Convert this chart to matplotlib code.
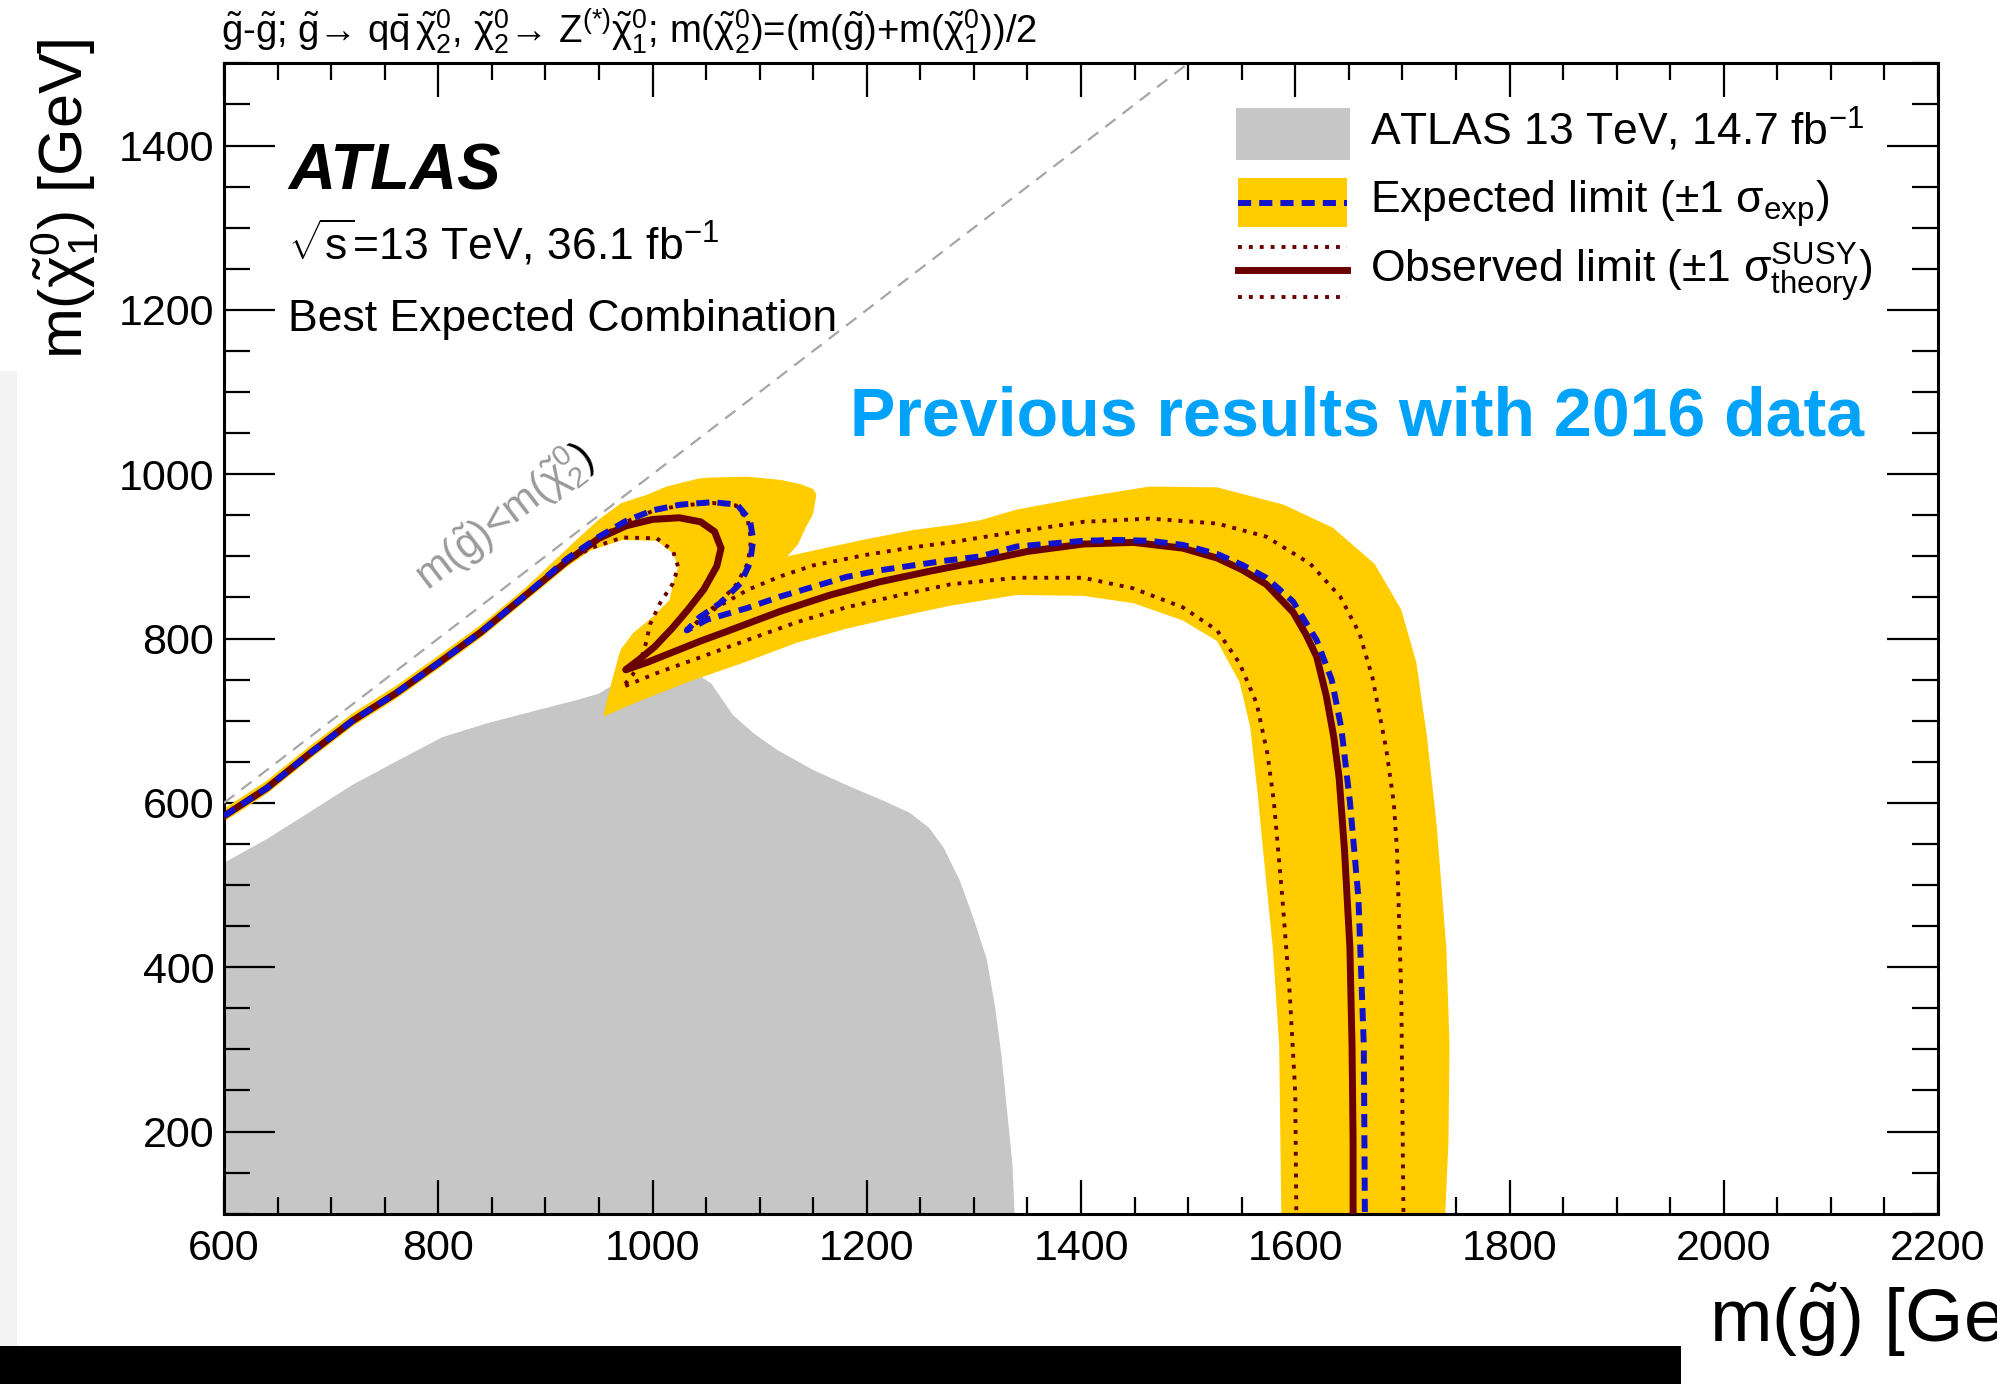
import numpy as np
import matplotlib
matplotlib.use('Agg')
import matplotlib.pyplot as plt
from matplotlib.patches import Rectangle
from matplotlib.ticker import MultipleLocator
from matplotlib.transforms import IdentityTransform

plt.rcParams['font.family'] = ['Liberation Sans', 'DejaVu Sans']
plt.rcParams['mathtext.fontset'] = 'custom'
plt.rcParams['mathtext.rm'] = 'Liberation Sans'
plt.rcParams['mathtext.it'] = 'Liberation Sans:italic'
plt.rcParams['mathtext.bf'] = 'Liberation Sans:bold'
plt.rcParams['mathtext.sf'] = 'Liberation Sans'
plt.rcParams['mathtext.default'] = 'regular'

# ---------------- data (GeV) ----------------
x_major = [600, 800, 1000, 1200, 1400, 1600, 1800, 2000, 2200]
y_major = [200, 400, 600, 800, 1000, 1200, 1400]

# kinematic boundary m(gluino) = m(chi1)
kin_x = [600, 1500]
kin_y = [600, 1500]

# previous ATLAS 13 TeV 14.7 fb-1 excluded region (grey)
prev_x = [600, 600, 640, 679, 720, 763, 804, 846, 887, 929, 950, 965, 990, 1020,
          1040, 1047, 1055, 1075, 1095, 1117, 1150, 1184, 1215, 1240, 1258, 1272,
          1287, 1300, 1312, 1320, 1326, 1331, 1336, 1338]
prev_y = [100, 527, 556, 588, 622, 652, 680, 697, 711, 725, 733, 745, 765, 778,
          765, 752, 745, 707, 684, 664, 640, 620, 603, 588, 570, 545,
          505, 458, 410, 350, 290, 225, 160, 100]

# expected +-1 sigma band: outer and inner edges
band_out_x = [600, 640, 680, 720, 760, 800, 840, 880, 929, 950, 971, 995, 1013, 1044,
              1055, 1088, 1097, 1120, 1138, 1150, 1153, 1150, 1143, 1136, 1126, 1150,
              1196, 1243, 1278, 1306, 1340, 1402, 1464, 1527, 1589, 1635, 1674, 1699,
              1713, 1723, 1732, 1741, 1744, 1743, 1740]
band_out_y = [593, 627, 669, 709, 742, 779, 817, 860, 920, 945, 965, 975, 985, 995,
              996, 997, 996, 993, 988, 982, 975, 952, 935, 915, 900, 907,
              920, 932, 938, 944, 957, 972, 985, 984, 963, 935, 891, 835,
              771, 680, 573, 424, 305, 187, 100]
band_in_x = [600, 640, 680, 720, 760, 800, 840, 880, 920, 942, 972, 1004, 1019, 1024,
             1019, 1016, 1000, 982, 970, 963, 957, 954, 988, 1035, 1088, 1135, 1181,
             1228, 1278, 1340, 1402, 1449, 1495, 1527, 1548, 1558, 1565, 1570, 1579,
             1585, 1587]
band_in_y = [577, 611, 653, 693, 726, 763, 801, 844, 887, 907, 920, 919, 904, 887,
             867, 847, 826, 807, 786, 753, 722, 705, 724, 748, 772, 795, 812,
             826, 840, 853, 852, 843, 822, 797, 747, 692, 610, 542, 424,
             305, 100]

# expected limit
exp_x = [600, 640, 680, 720, 760, 800, 840, 880, 920, 950, 975, 1000, 1026, 1056, 1079,
         1091, 1094, 1091, 1082, 1063, 1044, 1032, 1051, 1088, 1119, 1150, 1181, 1212,
         1243, 1275, 1306, 1340, 1402, 1433, 1464, 1495, 1527, 1550, 1573, 1598, 1620,
         1634, 1643, 1651, 1659, 1664, 1665]
exp_y = [584, 618, 660, 700, 733, 770, 808, 851, 897, 924, 943, 956, 963, 966, 963,
         944, 920, 892, 867, 843, 826, 810, 823, 837, 851, 863, 875, 883,
         889, 895, 900, 912, 919, 920, 919, 914, 903, 890, 874, 845, 798,
         750, 691, 602, 484, 305, 100]

# observed limit
obs_x = [600, 640, 680, 720, 760, 800, 840, 880, 920, 950, 975, 1000, 1025, 1045, 1058,
         1064, 1060, 1048, 1033, 1018, 1002, 988, 975, 995, 1020, 1045, 1070, 1119,
         1166, 1212, 1259, 1306, 1350, 1402, 1449, 1495, 1527, 1550, 1573, 1598, 1610,
         1620, 1629, 1636, 1641, 1646, 1651, 1653, 1654, 1654]
obs_y = [584, 618, 660, 700, 733, 770, 808, 851, 894, 922, 937, 945, 947, 942, 930,
         910, 888, 860, 835, 812, 790, 775, 762, 771, 784, 797, 809, 833,
         853, 869, 882, 894, 906, 915, 917, 910, 898, 884, 866, 832, 805,
         778, 730, 680, 630, 542, 424, 305, 187, 100]

# observed +1 sigma(theory)
thup_x = [600, 640, 680, 720, 760, 800, 840, 880, 920, 950, 975, 1000, 1026, 1056, 1078,
          1089, 1092, 1089, 1079, 1062, 1046, 1038, 1060, 1090, 1120, 1150, 1200, 1243,
          1278, 1340, 1402, 1464, 1527, 1573, 1614, 1642, 1660, 1672, 1685, 1692, 1695,
          1699, 1701]
thup_y = [584, 618, 660, 700, 733, 770, 808, 851, 896, 923, 942, 955, 962, 965, 962,
          943, 920, 892, 867, 843, 827, 815, 838, 860, 876, 889, 902, 911,
          917, 930, 942, 946, 940, 924, 891, 851, 806, 753, 665, 600, 542,
          365, 100]

# observed -1 sigma(theory)
thdn_x = [600, 640, 680, 720, 760, 800, 840, 880, 920, 942, 972, 1004, 1019, 1024, 1019,
          1007, 998, 993, 988, 981, 972, 1004, 1040, 1088, 1135, 1181, 1228, 1278, 1340,
          1402, 1449, 1495, 1527, 1548, 1564, 1574, 1580, 1588, 1595, 1600, 1601]
thdn_y = [584, 618, 660, 700, 733, 770, 808, 851, 893, 910, 923, 922, 907, 887, 867,
          843, 818, 790, 770, 755, 741, 758, 775, 798, 820, 838, 852, 866, 874,
          874, 861, 838, 810, 770, 721, 660, 602, 484, 365, 247, 100]

# ---------------- colours / styles ----------------
C_GREY = '#C6C6C6'
C_YEL = '#FFCC00'
C_RED = '#6B0000'
C_BLUE = '#1212CC'

W, H = 1997, 1384
fig = plt.figure(figsize=(W / 100, H / 100), dpi=100)
L, R, T, B = 224, 1938, 63.4, 1213.7
ax = fig.add_axes([L / W, 1 - B / H, (R - L) / W, (B - T) / H])
ax.set_xlim(600, 2200)
ax.set_ylim(100, 1500)

ax.fill(prev_x, prev_y, color=C_GREY, lw=0, zorder=1)
band_x = list(band_out_x) + list(band_in_x[::-1])
band_y = list(band_out_y) + list(band_in_y[::-1])
ax.fill(band_x, band_y, color=C_YEL, lw=0, zorder=2)
ax.plot(kin_x, kin_y, color='#A6A6A6', lw=1.6, dashes=(5.8, 4.0), zorder=3)
for tx, ty in ((thup_x, thup_y), (thdn_x, thdn_y)):
    ax.plot(tx, ty, color=C_RED, lw=2.8, dashes=(1.0, 1.8), dash_capstyle='butt', zorder=4)
ax.plot(obs_x, obs_y, color=C_RED, lw=5.0, solid_joinstyle='round', zorder=5)
ax.plot(exp_x, exp_y, color=C_BLUE, lw=4.3, dashes=(2.2, 1.35), dash_capstyle='butt', zorder=6)

# ---------------- axes styling ----------------
ax.set_xticks(x_major)
ax.set_yticks(y_major)
ax.xaxis.set_minor_locator(MultipleLocator(50))
ax.yaxis.set_minor_locator(MultipleLocator(50))
ax.tick_params(which='both', direction='in', top=True, right=True, width=1.6,
               labelsize=31, colors='black')
ax.tick_params(axis='x', which='major', length=24.5, pad=11)
ax.tick_params(axis='x', which='minor', length=12.3)
ax.tick_params(axis='y', which='major', length=36.5, pad=7)
ax.tick_params(axis='y', which='minor', length=18.5)
for s in ax.spines.values():
    s.set_linewidth(2.2)

# ---------------- texts ----------------
ax.text(0.0373, 0.890, 'ATLAS', transform=ax.transAxes, fontsize=47,
        fontweight='bold', fontstyle='italic', ha='left', va='baseline')
ax.text(0.0373, 0.8291, r'$\sqrt{s}$=13 TeV, 36.1 fb$^{-1}$', transform=ax.transAxes,
        fontsize=32, ha='left', va='baseline')
ax.text(0.0373, 0.7674, 'Best Expected Combination', transform=ax.transAxes,
        fontsize=32, ha='left', va='baseline')
ax.text(0.3652, 0.6761, 'Previous results with 2016 data', transform=ax.transAxes,
        fontsize=49, fontweight='bold', color='#00A2FA', ha='left', va='baseline')

# kinematic-limit label along the diagonal (closing parenthesis in black)
kin_label = r'm($\tilde{g}$)<m($\tilde{\chi}^{0}_{2}$'
kin_fs = 30
kin_anchor = (790, 858)
ax.text(kin_anchor[0], kin_anchor[1], kin_label, fontsize=kin_fs,
        color='#9A9A9A', rotation=45, transform_rotates_text=True,
        rotation_mode='anchor', ha='left', va='baseline', zorder=7)
fig.canvas.draw()
rend = fig.canvas.get_renderer()
tmp = fig.text(0, 0, kin_label, fontsize=kin_fs)
w_lab = tmp.get_window_extent(rend).width
tmp.remove()
p0 = ax.transData.transform(kin_anchor)
p1 = ax.transData.transform((kin_anchor[0] + 100, kin_anchor[1] + 100))
ang = np.arctan2(p1[1] - p0[1], p1[0] - p0[0])
pp = p0 + (w_lab + 1) * np.array([np.cos(ang), np.sin(ang)])
fig.text(pp[0], pp[1], ')', fontsize=kin_fs, color='black', rotation=np.degrees(ang),
         rotation_mode='anchor', ha='left', va='baseline', transform=IdentityTransform(),
         zorder=7)

# legend (drawn in axes coordinates)
tr = ax.transAxes
ax.add_patch(Rectangle((0.5904, 0.9160), 0.0665, 0.0452, transform=tr,
                       color=C_GREY, lw=0, zorder=8))
ax.add_patch(Rectangle((0.5916, 0.8578), 0.0636, 0.0426, transform=tr,
                       color=C_YEL, lw=0, zorder=8))
ax.plot([0.5916, 0.6552], [0.8787, 0.8787], transform=tr, color=C_BLUE, lw=4.3,
        dashes=(2.2, 1.35), zorder=9)
ax.plot([0.5916, 0.6552], [0.8204, 0.8204], transform=tr, color=C_RED, lw=5.0, zorder=9)
for yy in (0.8404, 0.7969):
    ax.plot([0.5916, 0.6552], [yy, yy], transform=tr, color=C_RED, lw=2.8,
            dashes=(1.0, 1.8), zorder=9)
ax.text(0.6686, 0.9291, r'ATLAS 13 TeV, 14.7 fb$^{-1}$', transform=tr, fontsize=32,
        ha='left', va='baseline')
ax.text(0.6686, 0.8700, r'Expected limit ($\pm$1 $\sigma_{exp}$)', transform=tr,
        fontsize=32, ha='left', va='baseline')
ax.text(0.6686, 0.8091, r'Observed limit ($\pm$1 $\sigma^{SUSY}_{theory}$)', transform=tr,
        fontsize=32, ha='left', va='baseline')

# title (cut at top), axis labels
fig.text(221 / W, 1 - 43 / H,
         r'$\tilde{g}$-$\tilde{g}$; $\tilde{g}$→ q$\bar{q}\,\tilde{\chi}^{0}_{2}$, '
         r'$\tilde{\chi}^{0}_{2}$→ Z$^{(*)}\tilde{\chi}^{0}_{1}$; '
         r'm($\tilde{\chi}^{0}_{2}$)=(m($\tilde{g}$)+m($\tilde{\chi}^{0}_{1}$))/2',
         fontsize=27.5, ha='left', va='baseline')
fig.text(65 / W, 1 - 38 / H, r'm($\tilde{\chi}^{0}_{1}$) [GeV]', fontsize=44,
         rotation=90, ha='center', va='top')
fig.text(1709 / W, 1 - 1342 / H, r'm($\tilde{g}$) [GeV]', fontsize=54,
         ha='left', va='baseline')

# screenshot artefacts: black bar at bottom, faint strip at left
fig.add_artist(Rectangle((0, 0), 1681 / W, 38 / H, transform=fig.transFigure,
                         color='black', lw=0, zorder=20))
fig.add_artist(Rectangle((0, 38 / H), 17 / W, (1346 - 371) / H, transform=fig.transFigure,
                         color='#F3F3F3', lw=0, zorder=0))

fig.savefig('out.png', dpi=100)
